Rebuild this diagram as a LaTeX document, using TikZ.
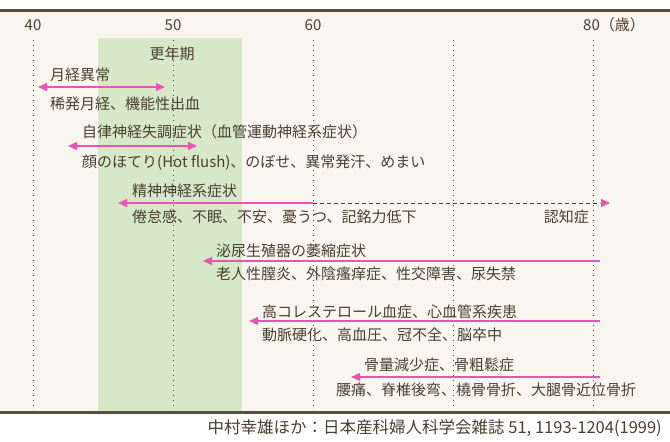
\documentclass[tikz,border=0pt]{standalone}
\usepackage{fontspec}
\setmainfont{Noto Sans CJK JP}
\usetikzlibrary{arrows.meta}
\definecolor{bg}{HTML}{F8F6EE}
\definecolor{ink}{HTML}{4A3F30}
\definecolor{bar}{HTML}{5A4E3C}
\definecolor{pk}{HTML}{E855B5}
\definecolor{gr}{HTML}{D6E8C8}
\begin{document}
\begin{tikzpicture}[x=1pt,y=-1pt,
  lbl/.style={anchor=west,inner sep=0pt,text=ink,font=\fontsize{15}{15}\selectfont},
  ax/.style={inner sep=0pt,text=ink,font=\fontsize{15}{15}\selectfont},
  grid/.style={ink,line width=1pt,dash pattern=on 1pt off 4pt},
  tip/.style={-{Triangle[length=9pt,width=8pt]}},
  arr/.style={pk,line width=1.2pt,tip},
  darr/.style={pk,line width=1.2pt,{Triangle[length=9pt,width=8pt]}-{Triangle[length=9pt,width=8pt]}}]
\useasboundingbox (0,0) rectangle (670,442);
\fill[white] (0,0) rectangle (670,442);
\fill[bg] (0,10) rectangle (670,412);
\fill[gr] (98,38) rectangle (242,412);
\draw[bar,line width=3pt] (0,10) -- (670,10);
\draw[bar,line width=3pt] (0,412) -- (670,412);
\foreach \x in {33,173,313,453,593} \draw[grid] (\x,40) -- (\x,410);
\node[ax] (a40) at (33,25) {40};
\node[ax] (a50) at (173,25) {50};
\node[ax] (a60) at (313,25) {60};
\node[ax,anchor=west] (a80) at (583,25) {80（歳）};
\node[ax] (kou) at (172,54) {更年期};
% row 1
\node[lbl] (l1) at (50,75) {月経異常};
\coordinate (s1) at (38,87); \coordinate (e1) at (165,87);
\draw[darr] (s1) -- (e1);
\node[lbl] (t1) at (50,104) {稀発月経、機能性出血};
% row 2
\node[lbl] (l2) at (82,132) {自律神経失調症状（血管運動神経系症状）};
\coordinate (s2) at (68,146); \coordinate (e2) at (197,146);
\draw[darr] (s2) -- (e2);
\node[lbl] (t2) at (82,163) {顔のほてり(Hot flush)、のぼせ、異常発汗、めまい};
% row 3
\node[lbl] (l3) at (132,191) {精神神経系症状};
\coordinate (m3) at (313,203); \coordinate (s3) at (118,203); \coordinate (e3) at (610,203);
\coordinate (d3) at (600,203);
\draw[arr] (m3) -- (s3);
\draw[ink,line width=1pt,dash pattern=on 4pt off 3pt] (m3) -- (d3);
\draw[pk,line width=1pt,tip] (d3) -- (e3);
\node[lbl] (t3) at (132,217) {倦怠感、不眠、不安、憂うつ、記銘力低下};
\node[lbl,anchor=east] (n3) at (589,217) {認知症};
% row 4
\node[lbl] (l4) at (216,251) {泌尿生殖器の萎縮症状};
\coordinate (s4) at (600,261); \coordinate (e4) at (203,261);
\draw[arr] (s4) -- (e4);
\node[lbl] (t4) at (216,274) {老人性膣炎、外陰瘙痒症、性交障害、尿失禁};
% row 5
\node[lbl] (l5) at (262,312) {高コレステロール血症、心血管系疾患};
\coordinate (s5) at (600,321); \coordinate (e5) at (249,321);
\draw[arr] (s5) -- (e5);
\node[lbl] (t5) at (262,335) {動脈硬化、高血圧、冠不全、脳卒中};
% row 6
\node[lbl] (l6) at (364,365) {骨量減少症、骨粗鬆症};
\coordinate (s6) at (600,377); \coordinate (e6) at (351,377);
\draw[arr] (s6) -- (e6);
\node[lbl] (t6) at (336,390) {腰痛、脊椎後弯、橈骨骨折、大腿骨近位骨折};
\node[lbl,anchor=east,font=\fontsize{16.5}{16.5}\selectfont] (cap) at (662,428) {中村幸雄ほか：日本産科婦人科学会雑誌 51, 1193-1204(1999)};
\end{tikzpicture}
\end{document}
